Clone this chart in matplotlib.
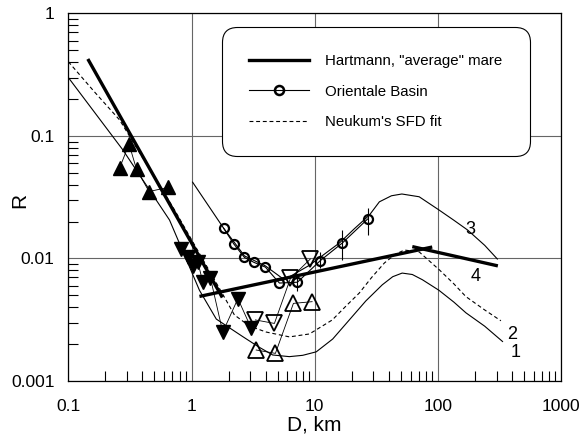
import matplotlib.pyplot as plt
from matplotlib.lines import Line2D

plt.rcParams['font.family'] = ['Liberation Sans', 'DejaVu Sans']

# Hartmann "average" mare (thick line, three pieces)
hart_steep_d = [0.144, 1.78]
hart_steep_r = [0.425, 0.0048]
hart_rise_d = [1.16, 90]
hart_rise_r = [0.0049, 0.0124]
hart_fall_d = [62, 307]
hart_fall_r = [0.0125, 0.0087]

# curve 1 (thin solid, lower)
c1_d = [0.1, 0.277, 0.663, 1.16, 1.59, 2.61, 3.5, 4.56, 6.23, 8.0, 10.3, 14.0, 19.1, 26.0,
        35.4, 43.0, 51.3, 62.0, 75, 102, 135, 169, 240, 335]
c1_r = [0.30, 0.077, 0.0206, 0.0055, 0.0032, 0.0023, 0.0019, 0.00163, 0.00158, 0.00162,
        0.00173, 0.0022, 0.00315, 0.0045, 0.0061, 0.0071, 0.0076, 0.0074, 0.0067, 0.0055,
        0.0044, 0.0036, 0.0028, 0.0021]

# curve 2 (Neukum's SFD fit, dashed)
c2_d = [0.1, 0.163, 0.261, 0.728, 1.75, 2.23, 2.95, 4.03, 6.24, 9.06, 13.9, 18.0, 23.0,
        29.0, 36.8, 45.0, 53.4, 70.6, 103, 135, 169, 240, 325]
c2_r = [0.404, 0.229, 0.135, 0.0249, 0.00533, 0.00346, 0.00281, 0.00251, 0.00229, 0.00242,
        0.00315, 0.0041, 0.00522, 0.0070, 0.00919, 0.0108, 0.01172, 0.0113, 0.00806, 0.0062,
        0.00488, 0.0038, 0.0031]

# curve 3 (thin solid, upper)
c3_d = [1.02, 1.82, 2.69, 3.98, 5.67, 9.06, 15.9, 21.0, 27.8, 33.5, 42.0, 51, 70.5, 102,
        135, 174, 240, 304]
c3_r = [0.042, 0.0177, 0.0105, 0.0087, 0.0067, 0.0088, 0.0134, 0.0175, 0.0226, 0.029,
        0.0325, 0.0336, 0.0319, 0.0249, 0.0205, 0.0171, 0.0128, 0.0099]

# Orientale Basin
ori_d = [1.82, 2.21, 2.69, 3.21, 3.98, 5.17, 7.24, 11.1, 16.8, 26.9]
ori_r = [0.0177, 0.0131, 0.0102, 0.0093, 0.0085, 0.0063, 0.0064, 0.0096, 0.0134, 0.0210]
err_d = [7.24, 11.1, 16.8, 26.9]
err_lo = [0.0054, 0.0083, 0.0097, 0.0156]
err_hi = [0.0075, 0.0114, 0.0171, 0.0258]

# triangles
up_fill_d = [0.261, 0.311, 0.358, 0.452, 0.645]
up_fill_r = [0.0548, 0.086, 0.0533, 0.0352, 0.038]
dn_fill_d = [0.825, 0.933, 1.024, 1.125, 1.235, 1.426, 1.794, 2.38, 3.05]
dn_fill_r = [0.0120, 0.0103, 0.0087, 0.0094, 0.0064, 0.0069, 0.0025, 0.0047, 0.0027]
dn_open_d = [3.30, 4.71, 6.35, 9.22]
dn_open_r = [0.00315, 0.00295, 0.00687, 0.0099]
up_open_d = [3.35, 4.80, 6.72, 9.53]
up_open_r = [0.00179, 0.00168, 0.0043, 0.00444]

curve_labels = ['1', '2', '3', '4']
label_d = [424, 401, 182, 201]
label_r = [0.0017, 0.00238, 0.0171, 0.0071]

fig = plt.figure(figsize=(5.84, 4.43), dpi=100)
ax = fig.add_axes([0.117, 0.140, 0.8437, 0.8296])
ax.set_xscale('log')
ax.set_yscale('log')
ax.set_xlim(0.1, 1000)
ax.set_ylim(0.001, 1)

ax.grid(True, which='major', color='#666666', linewidth=0.8)
ax.set_axisbelow(True)

# model curves
ax.plot(c1_d, c1_r, color='black', lw=0.8)
ax.plot(c2_d, c2_r, color='black', lw=0.8, linestyle=(0, (3.5, 2.5)))
ax.plot(c3_d, c3_r, color='black', lw=0.8)

# Hartmann
for d, r in [(hart_steep_d, hart_steep_r), (hart_rise_d, hart_rise_r), (hart_fall_d, hart_fall_r)]:
    ax.plot(d, r, color='black', lw=2.4, solid_capstyle='butt')

# triangles
ax.plot(up_fill_d, up_fill_r, color='black', lw=0.6, marker='^', ms=10, mfc='black', mec='black')
ax.plot(dn_fill_d, dn_fill_r, color='black', lw=0.6, marker='v', ms=10, mfc='black', mec='black')
ax.plot(dn_open_d, dn_open_r, color='black', lw=0.6, marker='v', ms=11, mfc='none', mec='black', mew=1.3)
ax.plot(up_open_d, up_open_r, color='black', lw=0.6, marker='^', ms=11, mfc='none', mec='black', mew=1.3)

# Orientale
ax.vlines(err_d, err_lo, err_hi, color='black', lw=0.8)
ax.plot(ori_d, ori_r, color='black', lw=0.8, marker='o', ms=6.5, mfc='none', mec='black', mew=1.6)

for t, d, r in zip(curve_labels, label_d, label_r):
    ax.text(d, r, t, fontsize=13, ha='center', va='center')

# ticks
ax.set_xticks([0.1, 1, 10, 100, 1000])
ax.set_xticklabels(['0.1', '1', '10', '100', '1000'])
ax.set_yticks([0.001, 0.01, 0.1, 1])
ax.set_yticklabels(['0.001', '0.01', '0.1', '1'])
ax.tick_params(which='major', length=0, labelsize=12.5)
ax.tick_params(axis='x', which='major', pad=13)
ax.tick_params(axis='y', which='major', pad=10)
ax.tick_params(which='minor', direction='in', length=7, width=0.8, top=False, right=False)
for s in ax.spines.values():
    s.set_linewidth(0.9)

ax.set_xlabel('D, km', fontsize=15, labelpad=1)
ax.set_ylabel('R', fontsize=15)
ax.yaxis.set_label_coords(-0.08, 0.49)

handles = [
    Line2D([], [], color='black', lw=2.4),
    Line2D([], [], color='black', lw=0.8, marker='o', ms=6.5, mfc='none', mew=1.8),
    Line2D([], [], color='black', lw=0.8, linestyle=(0, (3.5, 2.5))),
]
labels = ['Hartmann, "average" mare', 'Orientale Basin', "Neukum's SFD fit"]
leg = ax.legend(handles, labels, loc='center', bbox_to_anchor=(0.624, 0.7875),
                handlelength=4, handletextpad=1.1, labelspacing=1.1, borderpad=1.8,
                fancybox=True, framealpha=1, edgecolor='black', fontsize=10.8)
leg.get_frame().set_linewidth(0.8)
leg.get_frame().set_boxstyle('round,pad=0,rounding_size=1.0')

fig.savefig('out.png', dpi=100)
